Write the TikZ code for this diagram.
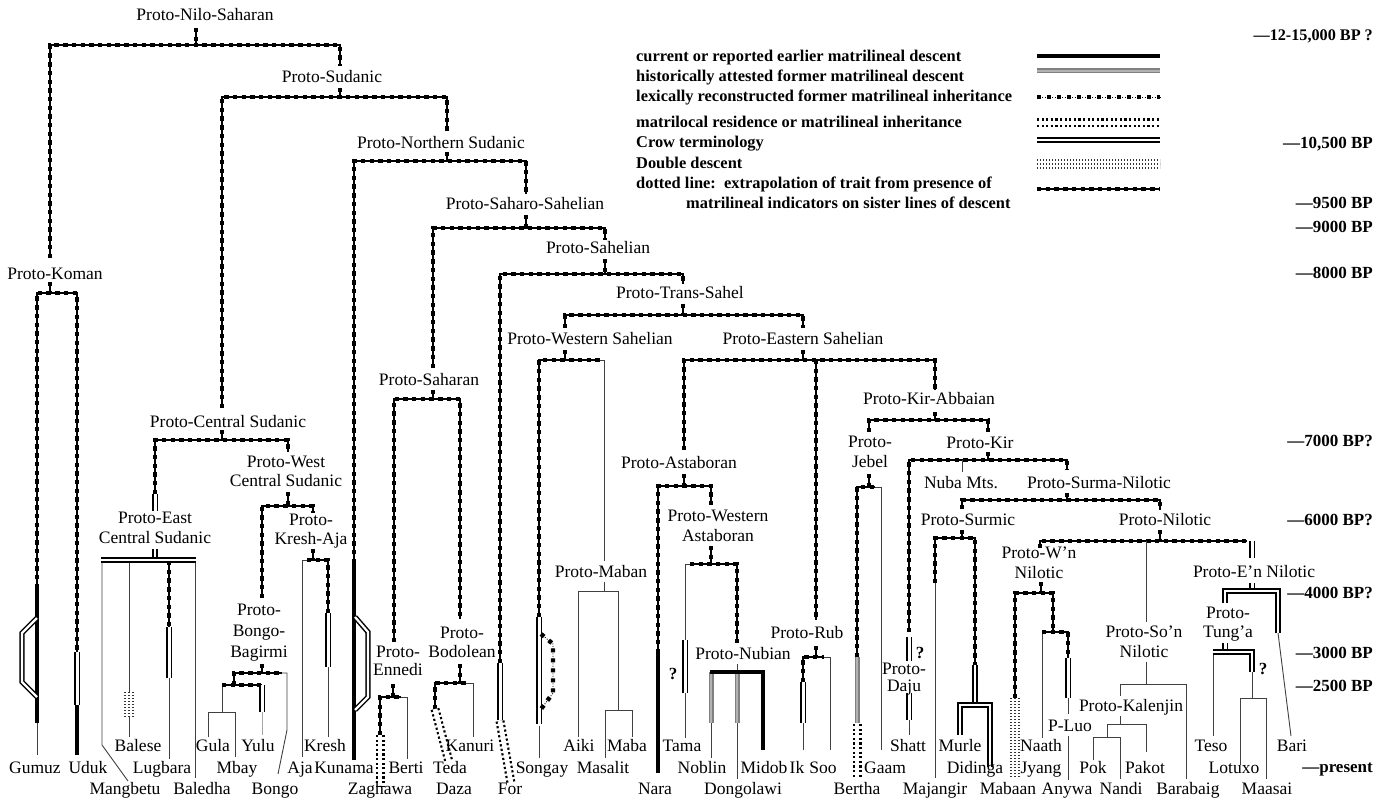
\documentclass[tikz,border=0pt]{standalone}
\usepackage{fontspec}
\setmainfont{Liberation Serif}
\begin{document}
\begin{tikzpicture}[x=1pt,y=-1pt,
  lb/.style={font=\fontsize{17.5}{20}\selectfont, inner sep=0pt, anchor=base},
  ml/.style={font=\fontsize{17.5}{19.5}\selectfont, inner sep=0pt, align=center},
  qm/.style={font=\bfseries\fontsize{17}{20}\selectfont, inner sep=0pt, anchor=base},
  tm/.style={font=\bfseries\fontsize{17}{20}\selectfont, inner sep=0pt, anchor=base east},
  lg/.style={font=\bfseries\fontsize{16.4}{20}\selectfont, inner sep=0pt, anchor=base west},
  dl/.style={draw=black, line width=1.1pt, postaction={draw=black, line width=4.6pt, dash pattern=on 4.4pt off 4.3pt}},
  thn/.style={draw=black!75, line width=0.9pt},
  thk/.style={draw=black, line width=3.2pt},
  dbl/.style={draw=black, line width=1.2pt, double=white, double distance=3pt},
  crow/.style={draw=black, line width=1.5pt, double=white, double distance=2.2pt},
  hist/.style={draw=black!50, line width=1.7pt, double=black!30, double distance=1.6pt},
  mloc/.style={draw=black, line width=9pt, dash pattern=on 2.2pt off 2.4pt, postaction={draw=white, line width=4.6pt, solid}},
  dd/.style={draw=black!80, line width=10pt, dash pattern=on 1.4pt off 1.6pt, postaction={draw=white, line width=6.4pt, solid}, postaction={draw=black!80, line width=1.6pt, dash pattern=on 1.4pt off 1.6pt}},
  lex/.style={draw=black, line width=0.8pt, dash pattern=on 1pt off 1.5pt, postaction={draw=black, line width=4.4pt, dash pattern=on 4pt off 6pt}},
]
\useasboundingbox (0,0) rectangle (1392,799);

% ---------------- legend ----------------
\node[lg] (lg1) at (636,62) {current or reported earlier matrilineal descent};
\node[lg] (lg2) at (636,82) {historically attested former matrilineal descent};
\node[lg] (lg3) at (636,102) {lexically reconstructed former matrilineal inheritance};
\node[lg] (lg4) at (636,128) {matrilocal residence or matrilineal inheritance};
\node[lg] (lg5) at (636,148) {Crow terminology};
\node[lg] (lg6) at (636,169) {Double descent};
\node[lg] (lg7) at (636,189) {dotted line:\ \ extrapolation of trait from presence of};
\node[lg] (lg8) at (686,209) {matrilineal indicators on sister lines of descent};
\draw[thk] (1037,56)--(1160,56);
\draw[hist] (1037,71)--(1160,71);
\draw[lex] (1037,97)--(1160,97);
\draw[mloc] (1037,123)--(1160,123);
\draw[crow] (1037,140)--(1160,140);
\draw[dd] (1037,164)--(1160,164);
\draw[dl] (1037,189)--(1160,189);

% ---------------- time scale ----------------
\node[tm, font=\bfseries\fontsize{16.2}{20}\selectfont] (t1) at (1373,41) {—12-15,000 BP ?};
\node[tm] (t2) at (1373,149) {—10,500 BP};
\node[tm] (t3) at (1373,209) {—9500 BP};
\node[tm] (t4) at (1373,233) {—9000 BP};
\node[tm] (t5) at (1373,279) {—8000 BP};
\node[tm] (t6) at (1373,446) {—7000 BP?};
\node[tm] (t7) at (1373,525) {—6000 BP?};
\node[tm] (t8) at (1373,598) {—4000 BP?};
\node[tm] (t9) at (1373,658) {—3000 BP};
\node[tm] (t10) at (1373,691) {—2500 BP};
\node[tm] (t11) at (1373,772) {—present};

% ---------------- upper tree ----------------
\draw[dl] (196,28)--(196,45);
\draw[dl] (50,258)--(50,45)--(340,45)--(340,66);
\draw[dl] (340,88)--(340,97);
\draw[dl] (222,408)--(222,97)--(447,97)--(447,131);
\draw[dl] (447,152)--(447,161);
\draw[dl] (354,563)--(354,161)--(526,161)--(526,194);
\draw[dl] (526,215)--(526,228);
\draw[dl] (433,368)--(433,228)--(605,228)--(605,240);
\draw[dl] (605,259)--(605,274);
\draw[dl] (500,663)--(500,274)--(683,274)--(683,284);
\draw[dl] (683,304)--(683,315);
\draw[dl] (565,328)--(565,315)--(803,315)--(803,328);
\draw[dl] (565,350)--(565,360);
\draw[dl] (539,617)--(539,360)--(600,360);
\draw[thn] (600,360)--(604,360)--(604,561);
\draw[thn] (604,582)--(604,591);
\draw[thn] (578,737)--(578,591)--(618,591)--(618,710);
\draw[thn] (605,758)--(605,710)--(632,710)--(632,737);

% Songay
\draw[thn] (539,726)--(539,758);
\draw[dbl] (539,617)--(539,724);
\draw[lex] (541,634)--(553,644)--(553,693)--(541,709);
% For
\draw[dbl] (500,663)--(500,720);
\draw[mloc] (500,721)--(511,783);
% Kunama
\draw[thk] (354,563)--(354,760);
\draw[crow] (355,617)--(368,632)--(368,697)--(355,710);

% Saharan
\draw[dl] (433,390)--(433,399);
\draw[dl] (394,642)--(394,399)--(460,399)--(460,619);
\draw[dl] (393,684)--(393,697);
\draw[dl] (380,735)--(380,697)--(401,697);
\draw[thn] (401,697)--(407,697)--(407,759);
\draw[mloc] (380,735)--(380,786);
\draw[dl] (460,664)--(460,683);
\draw[dl] (435,709)--(435,683)--(466,683);
\draw[thn] (466,683)--(473,683)--(473,737);
\draw[mloc] (435,709)--(449,762);

% Koman
\draw[dl] (50,282)--(50,293);
\draw[dl] (37,588)--(37,293)--(77,293)--(77,652);
\draw[thn] (37,723)--(37,755);
\draw[thk] (37,588)--(37,723);
\draw[crow] (37,618)--(22,633)--(22,682)--(37,697);
\draw[dbl] (77,652)--(77,705);
\draw[thk] (77,705)--(77,755);

% Central Sudanic
\draw[dl] (222,430)--(222,440);
\draw[dl] (155,494)--(155,440)--(288,440)--(288,452);
\draw[dbl] (155,494)--(155,511);
\draw[thn] (102,561)--(102,745)--(128,781);
\draw[thn] (129,561)--(129,737);
\draw[dd] (129,692)--(129,717);
\draw[dl] (169,561)--(169,627);
\draw[thn] (169,678)--(169,759);
\draw[dbl] (169,627)--(169,678);
\draw[thn] (195,561)--(195,778);
\draw[crow] (155,549)--(155,560);
\draw[crow] (101,560)--(196,560);

% West Central Sudanic
\draw[dl] (288,492)--(288,506);
\draw[dl] (262,598)--(262,506)--(313,506)--(313,513);
\draw[dl] (313,549)--(313,560);
\draw[thn] (302,757)--(302,560)--(307,560);
\draw[dl] (307,560)--(328,560)--(328,613);
\draw[thn] (328,667)--(328,737);
\draw[dbl] (328,613)--(328,667);
\draw[dl] (262,664)--(262,673);
\draw[dl] (234,685)--(234,673)--(282,673);
\draw[thn] (282,673)--(287,673)--(287,730)--(278,774);
\draw[thn] (222,685)--(222,712);
\draw[thn] (208,737)--(208,712)--(235,712)--(235,757);
\draw[dl] (222,685)--(262,685);
\draw[draw=black!35, line width=0.8pt] (262,712)--(262,735);
\draw[dbl] (262,685)--(262,712);

% Eastern Sahelian
\draw[dl] (803,350)--(803,360);
\draw[dl] (684,450)--(684,360)--(935,360)--(935,390);
\draw[dl] (816,360)--(816,620);
% Astaboran
\draw[dl] (684,474)--(684,486);
\draw[dl] (658,653)--(658,486)--(711,486)--(711,505);
\draw[thk] (658,653)--(658,773);
\draw[dl] (711,546)--(711,564);
\draw[dl] (737,643)--(737,564)--(690,564);
\draw[thn] (690,564)--(685,564)--(685,640);
\draw[thn] (685,693)--(685,738);
\draw[dbl] (685,640)--(685,693);
% Nubian
\draw[thn] (737,664)--(737,672);
\draw[thn] (711,723)--(711,758);
\draw[thn] (737,723)--(737,779);
\draw[hist] (711,672)--(711,723);
\draw[hist] (737,672)--(737,723);
\draw[thk] (709.5,672)--(763,672)--(763,750);
% Rub
\draw[dl] (816,646)--(816,657);
\draw[dl] (803,682)--(803,657)--(824,657);
\draw[thn] (824,657)--(830,657)--(830,750);
\draw[thn] (803,723)--(803,750);
\draw[dbl] (803,682)--(803,723);

% Kir-Abbaian
\draw[dl] (935,412)--(935,420);
\draw[dl] (869,432)--(869,420)--(988,420)--(988,432);
\draw[dl] (869,474)--(869,487);
\draw[dl] (857,657)--(857,487)--(875,487);
\draw[thn] (875,487)--(881,487)--(881,750);
\draw[hist] (857,657)--(857,723);
\draw[mloc] (857,724)--(857,778);
% Kir
\draw[dl] (988,452)--(988,460);
\draw[dl] (909,632)--(909,460)--(1067,460)--(1067,470);
\draw[thn] (962,460)--(962,472);
\draw[thn] (909,720)--(909,735);
\draw[dbl] (909,637)--(909,661);
\draw[dbl] (909,693)--(909,720);
% Surma-Nilotic
\draw[dl] (1067,493)--(1067,500);
\draw[dl] (962,509)--(962,500)--(1160,500)--(1160,510);
% Surmic
\draw[dl] (962,530)--(962,538);
\draw[dl] (935,583)--(935,538)--(975,538)--(975,665);
\draw[thn] (935,583)--(935,778);
\draw[crow] (975,665)--(975,705);
\draw[crow] (960,735)--(960,705)--(990,705)--(990,767);
% Nilotic
\draw[dl] (1160,530)--(1160,541);
\draw[dl] (1040,548)--(1040,541)--(1247,541);
\draw[thn] (1146,541)--(1146,622);
\draw[dbl] (1252,541)--(1252,558);
% W'n Nilotic
\draw[dl] (1041,582)--(1041,593);
\draw[dl] (1015,698)--(1015,593)--(1053,593)--(1053,632);
\draw[thn] (1042,632)--(1042,738);
\draw[dl] (1042,632)--(1068,632)--(1068,658);
\draw[thn] (1068,698)--(1068,714);
\draw[thn] (1068,736)--(1068,780);
\draw[dbl] (1068,658)--(1068,698);
\draw[dd] (1015,698)--(1015,778);
% E'n Nilotic
\draw[dbl] (1252,583)--(1252,591);
\draw[thn] (1278,633)--(1291,736);
\draw[crow] (1225,603)--(1225,591)--(1278,591)--(1278,633);
\draw[dbl] (1225,643)--(1225,652);
\draw[thn] (1213,652)--(1213,736);
\draw[thn] (1252,672)--(1252,698);
\draw[thn] (1240,765)--(1240,698)--(1266,698)--(1266,779);
\draw[crow] (1213,652)--(1252,652)--(1252,672);
% So'n Nilotic
\draw[thn] (1146,662)--(1146,684);
\draw[thn] (1120,696)--(1120,684)--(1186,684)--(1186,779);
\draw[thn] (1120,716)--(1120,724);
\draw[thn] (1107,724)--(1146,724)--(1146,752);
\draw[thn] (1107,724)--(1107,737);
\draw[thn] (1093,760)--(1093,737)--(1120,737)--(1120,779);

% ---------------- internal labels ----------------
\node[lb] (pns) at (205,21) {Proto-Nilo-Saharan};
\node[lb] (psud) at (332,83) {Proto-Sudanic};
\node[lb] (pnsud) at (441,149) {Proto-Northern Sudanic};
\node[lb] (pssah) at (525,210) {Proto-Saharo-Sahelian};
\node[lb] (psah) at (598,254) {Proto-Sahelian};
\node[lb] (pts) at (680,299) {Proto-Trans-Sahel};
\node[lb] (pws) at (590,345) {Proto-Western Sahelian};
\node[lb] (pes) at (803,345) {Proto-Eastern Sahelian};
\node[lb] (pkom) at (55,280) {Proto-Koman};
\node[lb] (psahr) at (429,386) {Proto-Saharan};
\node[lb] (pka) at (929,405) {Proto-Kir-Abbaian};
\node[lb] (pcs) at (228,427) {Proto-Central Sudanic};
\node[lb] (pkir) at (980,448) {Proto-Kir};
\node[lb] (past) at (679,468) {Proto-Astaboran};
\node[lb] (nuba) at (961,488) {Nuba Mts.};
\node[lb] (psn) at (1099,488) {Proto-Surma-Nilotic};
\node[lb] (psur) at (968,525) {Proto-Surmic};
\node[lb] (pnil) at (1165,525) {Proto-Nilotic};
\node[lb] (penil) at (1254,577) {Proto-E’n Nilotic};
\node[lb] (pmab) at (601,577) {Proto-Maban};
\node[lb] (prub) at (807,638) {Proto-Rub};
\node[lb] (pnub) at (743,659) {Proto-Nubian};
\node[lb] (pkal) at (1131,711) {Proto-Kalenjin};
\node[lb] (pluo) at (1070,731) {P-Luo};
\node[qm] (q1) at (673,679) {?};
\node[qm] (q2) at (920,658) {?};
\node[qm] (q3) at (1263,674) {?};
\node[ml] (pjeb) at (870,452) {Proto-\\Jebel};
\node[ml] (pwcs) at (286,471.5) {Proto-West\\Central Sudanic};
\node[ml] (pecs) at (155,528) {Proto-East\\Central Sudanic};
\node[ml] (pka2) at (311,531) {Proto-\\Kresh-Aja};
\node[ml] (pwa) at (718,526) {Proto-Western\\Astaboran};
\node[ml] (pwn) at (1039,563) {Proto-W’n\\Nilotic};
\node[ml] (ptung) at (1228,624) {Proto-\\Tung’a};
\node[ml] (pson) at (1144,642) {Proto-So’n\\Nilotic};
\node[ml, font=\fontsize{17.5}{21}\selectfont] (pbb) at (259,633) {Proto-\\Bongo-\\Bagirmi};
\node[ml] (pbod) at (462,642.5) {Proto-\\Bodolean};
\node[ml, font=\fontsize{17.5}{18}\selectfont] (penn) at (398,661) {Proto-\\Ennedi};
\node[ml, font=\fontsize{17.5}{16.5}\selectfont] (pdaju) at (904,679) {Proto-\\Daju};

% ---------------- leaves ----------------
\node[lb] (gumuz) at (35,773) {Gumuz};
\node[lb] (uduk) at (88,773) {Uduk};
\node[lb] (mangbetu) at (125,794) {Mangbetu};
\node[lb] (balese) at (138,751) {Balese};
\node[lb] (lugbara) at (162,773) {Lugbara};
\node[lb] (baledha) at (202,794) {Baledha};
\node[lb] (gula) at (213,751) {Gula};
\node[lb] (mbay) at (237,773) {Mbay};
\node[lb] (yulu) at (258,751) {Yulu};
\node[lb] (bongo) at (275,794) {Bongo};
\node[lb] (kresh) at (325,751) {Kresh};
\node[lb] (aja) at (300,773) {Aja};
\node[lb] (kunama) at (344,773) {Kunama};
\node[lb] (zaghawa) at (380,794) {Zaghawa};
\node[lb] (berti) at (406,773) {Berti};
\node[lb] (teda) at (450,773) {Teda};
\node[lb] (daza) at (454,794) {Daza};
\node[lb] (kanuri) at (470,751) {Kanuri};
\node[lb] (for) at (510,794) {For};
\node[lb] (songay) at (542,773) {Songay};
\node[lb] (aiki) at (579,751) {Aiki};
\node[lb] (masalit) at (603,773) {Masalit};
\node[lb] (maba) at (627,751) {Maba};
\node[lb] (nara) at (655,794) {Nara};
\node[lb] (tama) at (682,751) {Tama};
\node[lb] (noblin) at (702,773) {Noblin};
\node[lb] (dongolawi) at (743,794) {Dongolawi};
\node[lb] (midob) at (764,773) {Midob};
\node[lb] (ik) at (797,773) {Ik};
\node[lb] (soo) at (823,773) {Soo};
\node[lb] (bertha) at (857,794) {Bertha};
\node[lb] (gaam) at (885,773) {Gaam};
\node[lb] (shatt) at (908,751) {Shatt};
\node[lb] (majangir) at (935,794) {Majangir};
\node[lb] (murle) at (960,751) {Murle};
\node[lb] (didinga) at (975,773) {Didinga};
\node[lb] (mabaan) at (1008,794) {Mabaan};
\node[lb] (naath) at (1041,751) {Naath};
\node[lb] (jyang) at (1041,773) {Jyang};
\node[lb] (anywa) at (1067,794) {Anywa};
\node[lb] (pok) at (1093,773) {Pok};
\node[lb] (pakot) at (1145,773) {Pakot};
\node[lb] (nandi) at (1121,794) {Nandi};
\node[lb] (barabaig) at (1188,794) {Barabaig};
\node[lb] (teso) at (1211,751) {Teso};
\node[lb] (lotuxo) at (1234,773) {Lotuxo};
\node[lb] (maasai) at (1267,794) {Maasai};
\node[lb] (bari) at (1292,751) {Bari};
\end{tikzpicture}
\end{document}
